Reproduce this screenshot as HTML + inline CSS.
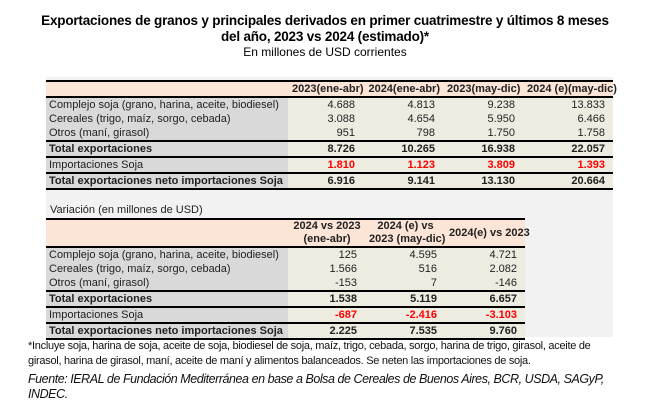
<!DOCTYPE html>
<html><head><meta charset="utf-8"><style>
body{margin:0;width:650px;height:416px;background:#fff;position:relative;overflow:hidden;font-family:"Liberation Sans",sans-serif;}
.t{position:absolute;left:0;width:650px;text-align:center;color:#000;}
#bg{position:absolute;left:46px;top:77px;width:567px;height:260px;background:#f2f2f2;}
table{position:absolute;border-collapse:collapse;table-layout:fixed;font-size:11px;color:#222;}
td{padding:0 4px;height:14px;line-height:14px;white-space:nowrap;overflow:visible;}
td.l{background:#d9d9d9;text-align:left;padding-left:3px;}
td.n{background:#eeece1;text-align:right;padding-right:8px;}
tr.h td{background:#fce4d6;font-weight:bold;text-align:right;padding-right:3px;}
tr.b td{font-weight:bold;border-top:2px solid #000;}
tr.r td.n{color:#f00;font-weight:bold;}
tr.bt td{border-top:2px solid #000;}
tr.bb td{border-bottom:2px solid #000;}
.f{position:absolute;left:58px;font-size:11px;color:#111;line-height:15px;width:560px;}
</style></head><body>
<div class="t" style="top:13px;font-size:13.5px;font-weight:bold;line-height:16px;letter-spacing:-0.2px;">Exportaciones de granos y principales derivados en primer cuatrimestre y últimos 8 meses<br>del año, 2023 vs 2024 (estimado)*</div>
<div class="t" style="top:45px;font-size:12px;">En millones de USD corrientes</div>
<div id="bg"></div>
<table style="left:46px;top:80px;width:567px;">
<colgroup><col style="width:242px"><col style="width:75px"><col style="width:80px"><col style="width:80px"><col style="width:90px"></colgroup>
<tr class="h bt" style="height:15px"><td style="background:#fce4d6"></td><td>2023(ene-abr)</td><td>2024(ene-abr)</td><td>2023(may-dic)</td><td>2024 (e)(may-dic)</td></tr>
<tr class="bt"><td class="l" style="height:14px">Complejo soja (grano, harina, aceite, biodiesel)</td><td class="n">4.688</td><td class="n">4.813</td><td class="n">9.238</td><td class="n">13.833</td></tr>
<tr><td class="l">Cereales (trigo, maíz, sorgo, cebada)</td><td class="n">3.088</td><td class="n">4.654</td><td class="n">5.950</td><td class="n">6.466</td></tr>
<tr><td class="l">Otros (maní, girasol)</td><td class="n">951</td><td class="n">798</td><td class="n">1.750</td><td class="n">1.758</td></tr>
<tr class="b"><td class="l">Total exportaciones</td><td class="n">8.726</td><td class="n">10.265</td><td class="n">16.938</td><td class="n">22.057</td></tr>
<tr class="r bt"><td class="l">Importaciones Soja</td><td class="n">1.810</td><td class="n">1.123</td><td class="n">3.809</td><td class="n">1.393</td></tr>
<tr class="b bb"><td class="l">Total exportaciones neto importaciones Soja</td><td class="n">6.916</td><td class="n">9.141</td><td class="n">13.130</td><td class="n">20.664</td></tr>
</table>
<div style="position:absolute;left:50px;top:204px;font-size:11px;color:#222;">Variación (en millones de USD)</div>
<table style="left:46px;top:218px;width:479px;">
<colgroup><col style="width:242px"><col style="width:77px"><col style="width:80px"><col style="width:80px"></colgroup>
<tr class="h bt"><td style="background:#fce4d6;height:26px"></td><td style="line-height:13px;text-align:center">2024 vs 2023<br>(ene-abr)</td><td style="line-height:13px;text-align:center">2024 (e) vs<br>2023 (may-dic)</td><td style="text-align:center">2024(e) vs 2023</td></tr>
<tr class="bt"><td class="l">Complejo soja (grano, harina, aceite, biodiesel)</td><td class="n">125</td><td class="n">4.595</td><td class="n">4.721</td></tr>
<tr><td class="l">Cereales (trigo, maíz, sorgo, cebada)</td><td class="n">1.566</td><td class="n">516</td><td class="n">2.082</td></tr>
<tr><td class="l">Otros (maní, girasol)</td><td class="n">-153</td><td class="n">7</td><td class="n">-146</td></tr>
<tr class="b"><td class="l">Total exportaciones</td><td class="n">1.538</td><td class="n">5.119</td><td class="n">6.657</td></tr>
<tr class="r bt"><td class="l">Importaciones Soja</td><td class="n">-687</td><td class="n">-2.416</td><td class="n">-3.103</td></tr>
<tr class="b bb"><td class="l">Total exportaciones neto importaciones Soja</td><td class="n">2.225</td><td class="n">7.535</td><td class="n">9.760</td></tr>
</table>
<div class="f" style="top:339px;left:28px;font-size:11px;letter-spacing:-0.28px;width:600px;">*Incluye soja, harina de soja, aceite de soja, biodiesel de soja, maíz, trigo, cebada, sorgo, harina de trigo, girasol, aceite de<br>girasol, harina de girasol, maní, aceite de maní y alimentos balanceados. Se neten las importaciones de soja.</div>
<div class="f" style="top:372px;left:28px;font-size:12.5px;font-style:italic;letter-spacing:-0.45px;width:600px;line-height:15px;">Fuente: IERAL de Fundación Mediterránea en base a Bolsa de Cereales de Buenos Aires, BCR, USDA, SAGyP,<br>INDEC.</div>
</body></html>
